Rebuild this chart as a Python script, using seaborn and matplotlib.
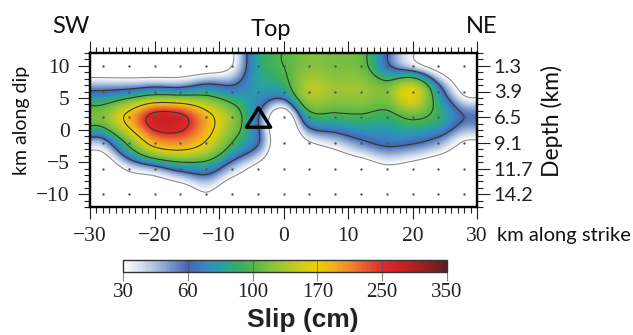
import numpy as np
import pandas as pd
import matplotlib
matplotlib.use("Agg")
import matplotlib.pyplot as plt
import matplotlib.colors as mcolors
from matplotlib.path import Path
from matplotlib.ticker import MultipleLocator
import seaborn as sns

# Subfault centres (km) and slip per subfault (cm), rows listed top (shallow) to bottom (deep)
strike_km = [-28, -24, -20, -16, -12, -8, -4, 0, 4, 8, 12, 16, 20, 24, 28]
dip_km = [10, 6, 2, -2, -6, -10]
depth_labels = ["1.3", "3.9", "6.5", "9.1", "11.7", "14.2"]

slip_dip_p10 = [10, 10, 10, 12, 15, 30, 82, 100, 120, 115, 110, 65, 40, 20, 10]
slip_dip_p6 = [62, 68, 80, 78, 85, 72, 78, 80, 140, 130, 130, 120, 165, 75, 25]
slip_dip_p2 = [120, 185, 270, 265, 190, 125, 62, 8, 85, 92, 95, 90, 105, 90, 60]
slip_dip_m2 = [48, 110, 190, 205, 165, 100, 62, 5, 28, 40, 55, 65, 62, 50, 28]
slip_dip_m6 = [10, 35, 50, 70, 75, 45, 22, 5, 8, 10, 15, 25, 20, 12, 8]
slip_dip_m10 = [5, 8, 10, 12, 28, 10, 6, 5, 5, 5, 5, 5, 5, 5, 5]

slip_ticks = [30, 60, 100, 170, 250, 350]
contour_levels = [60, 100, 170, 250]
outline_level = 30
hypocenter_strike = [-4]
hypocenter_dip = [2]

# ---------------------------------------------------------------------------
slip = np.array([slip_dip_p10, slip_dip_p6, slip_dip_p2,
                 slip_dip_m2, slip_dip_m6, slip_dip_m10], dtype=float)


def cubic_matrix(src, dst, a=-0.5):
    """Cubic-convolution (Catmull-Rom) resampling matrix with clamped edges."""
    src = np.asarray(src, float)
    dst = np.asarray(dst, float)
    h = src[1] - src[0]
    t = (dst - src[0]) / h
    i0 = np.floor(t).astype(int)
    f = t - i0
    n = len(src)
    W = np.zeros((len(dst), n))
    rows = np.arange(len(dst))
    for off in (-1, 0, 1, 2):
        d = np.abs(f - off)
        w = np.where(d <= 1, (a + 2) * d**3 - (a + 3) * d**2 + 1,
                     np.where(d < 2, a * d**3 - 5 * a * d**2 + 8 * a * d - 4 * a, 0.0))
        idx = np.clip(i0 + off, 0, n - 1)
        np.add.at(W, (rows, idx), w)
    return W


xs = np.array(strike_km, float)
ys = np.array(dip_km[::-1], float)          # ascending
z = slip[::-1]                               # rows ascending in dip
xf = np.linspace(-30, 30, 601)
yf = np.linspace(-12, 12, 241)
field = cubic_matrix(ys, yf) @ z @ cubic_matrix(xs, xf).T

# equal-width colour segments between the slip tick values
seg_pos = np.linspace(0, 1, len(slip_ticks))
field_pos = np.interp(field, slip_ticks, seg_pos)

cmap = mcolors.LinearSegmentedColormap.from_list("slip", [
    (0.00, "#ffffff"), (0.05, "#d8e2f0"), (0.10, "#a9bedd"), (0.15, "#7592c8"),
    (0.20, "#4466b0"), (0.25, "#3a84c2"), (0.30, "#26a0a8"), (0.35, "#36ac68"),
    (0.40, "#52b648"), (0.45, "#80c040"), (0.50, "#a8c830"), (0.55, "#d0cc18"),
    (0.60, "#ecd000"), (0.65, "#f2b020"), (0.70, "#f08a30"), (0.75, "#e85a30"),
    (0.80, "#e02a2a"), (0.85, "#d02222"), (0.90, "#b02020"), (0.95, "#882020"),
    (1.00, "#582020")])

sns.set_style("ticks")
W, H = 633, 335
fig = plt.figure(figsize=(W / 100, H / 100), dpi=100)

def fx(px):
    return px / W

def fy(py):
    return 1 - py / H

ax = fig.add_axes([fx(90), fy(207), fx(477) - fx(90), fy(53) - fy(207)])
im = ax.imshow(field_pos, extent=[-30, 30, -12, 12], origin="lower", cmap=cmap,
               vmin=0, vmax=1, aspect="auto", interpolation="bilinear", zorder=1)
ax.contour(xf, yf, field, levels=[outline_level], colors="#8c8c8c",
           linewidths=0.8, zorder=2)
ax.contour(xf, yf, field, levels=contour_levels, colors="#2e3a30",
           linewidths=0.8, zorder=2)

grid = pd.DataFrame([(s, d) for d in dip_km for s in strike_km], columns=["strike", "dip"])
sns.scatterplot(data=grid, x="strike", y="dip", s=3, color="#555555",
                linewidth=0, ax=ax, zorder=3, legend=False)

tri = Path([(-1.0, -0.8), (1.0, -0.8), (0.0, 0.8), (-1.0, -0.8)],
           [Path.MOVETO, Path.LINETO, Path.LINETO, Path.CLOSEPOLY])
ax.plot(hypocenter_strike, hypocenter_dip, linestyle="none", marker=tri,
        markersize=17.5, markerfacecolor="none", markeredgecolor="black",
        markeredgewidth=2.4, zorder=4)

ax.set_xlim(-30, 30)
ax.set_ylim(-12, 12)
ax.set_xlabel("")
ax.set_ylabel("")
ax.xaxis.set_major_locator(MultipleLocator(10))
ax.xaxis.set_minor_locator(MultipleLocator(1))
ax.yaxis.set_major_locator(MultipleLocator(5))
ax.yaxis.set_minor_locator(MultipleLocator(1))
ax.tick_params(which="both", direction="out", top=True, right=False,
               color="#222222", width=0.8)
ax.tick_params(which="major", length=8.5, pad=6)
ax.tick_params(which="minor", length=4)
for lab in ax.get_xticklabels() + ax.get_yticklabels():
    lab.set_family("Liberation Serif")
    lab.set_fontsize(15.5)
    lab.set_color("#222222")
for sp in ax.spines.values():
    sp.set_linewidth(1.6)
    sp.set_color("black")

ax2 = ax.twinx()
ax2.set_ylim(-12, 12)
ax2.set_yticks(dip_km)
ax2.set_yticklabels(depth_labels, family="Lato", fontsize=14.5, color="#222222")
ax2.yaxis.set_minor_locator(MultipleLocator(1))
ax2.tick_params(which="both", direction="out", color="#222222", width=0.8)
ax2.tick_params(which="major", length=9, pad=3)
ax2.tick_params(which="minor", length=4)
for sp in ax2.spines.values():
    sp.set_linewidth(1.6)
    sp.set_color("black")

txt = dict(family="Lato", color="#111111")
fig.text(fx(71), fy(33), "SW", ha="center", va="baseline", fontsize=17, **txt)
fig.text(fx(271), fy(36.5), "Top", ha="center", va="baseline", fontsize=17, **txt)
fig.text(fx(482), fy(33), "NE", ha="center", va="baseline", fontsize=17, **txt)
fig.text(fx(22), fy(120), "km along dip", ha="center", va="center",
         rotation=90, fontsize=14, **txt)
fig.text(fx(497), fy(240.5), "km along strike", ha="left", va="baseline",
         fontsize=14.5, **txt)
fig.text(fx(552), fy(121), "Depth (km)", ha="center", va="center",
         rotation=90, fontsize=16.5, **txt)

# colour scale with equal-width segments
cax = fig.add_axes([fx(123), fy(271.5), fx(447) - fx(123), fy(260) - fy(271.5)])
cb = fig.colorbar(im, cax=cax, orientation="horizontal")
cb.set_ticks(seg_pos)
cb.set_ticklabels([str(v) for v in slip_ticks])
cb.outline.set_linewidth(1.0)
cb.outline.set_edgecolor("#333333")
for p in seg_pos[1:-1]:
    cax.axvline(p, color="#555555", linewidth=0.7, alpha=0.7)
cax.tick_params(direction="out", length=6.5, width=0.8, color="#888888", pad=2)
for lab in cax.get_xticklabels():
    lab.set_family("Liberation Serif")
    lab.set_fontsize(15)
    lab.set_color("#222222")
fig.text(fx(302.5), fy(327), "Slip (cm)", ha="center", va="baseline",
         family="Liberation Sans", fontweight="bold", fontsize=19, color="#222222")

fig.savefig("out.png", dpi=100)
